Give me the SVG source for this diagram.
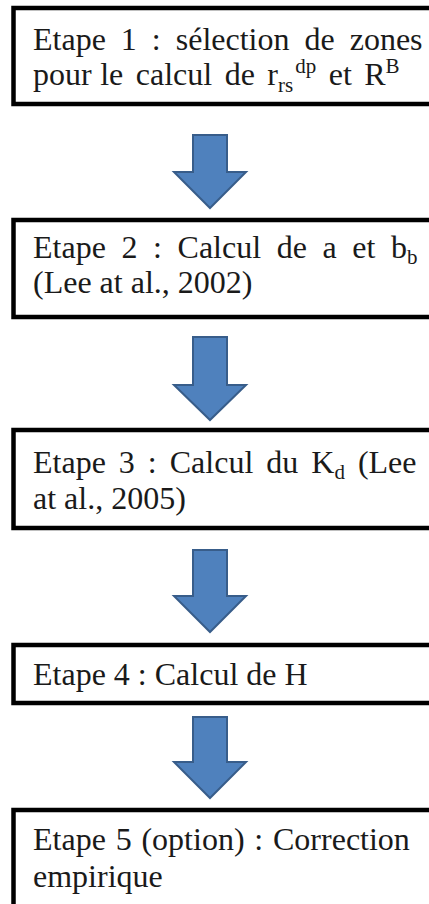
<svg xmlns="http://www.w3.org/2000/svg" width="429" height="904" viewBox="0 0 429 904">
<style>
.box{fill:#fff;stroke:#000;stroke-width:4.5}
.t{font-family:"Liberation Serif","Times New Roman",serif;font-size:32px;fill:#1a1a1a}
.s{font-size:21px}
.arrow{fill:#4F81BD;stroke:#385D8A;stroke-width:2;stroke-linejoin:miter}
</style>
<rect width="429" height="904" fill="#fff"/>
<g id="connectors">
<path class="arrow" d="M193,135 H227 V172 H246 L210,208 L174,172 H193 Z"/>
<path class="arrow" d="M193,337 H227 V385 H246 L210,420 L174,385 H193 Z"/>
<path class="arrow" d="M193,550 H227 V596 H246 L210,632 L174,596 H193 Z"/>
<path class="arrow" d="M193,717 H227 V762 H246 L210,798 L174,762 H193 Z"/>
</g>
<g id="step1">
<rect class="box" x="13.5" y="8" width="430" height="96"/>
<text class="t" x="33" y="50" word-spacing="7">Etape 1 : sélection de zones</text>
<text class="t" x="33" y="85" word-spacing="4.5">pour<tspan dx="-4"> le calcul de r</tspan><tspan class="s" dy="7">rs</tspan><tspan class="s" dx="2" dy="-19">dp</tspan><tspan dy="12"> et R</tspan><tspan class="s" dy="-12">B</tspan></text>
</g>
<g id="step2">
<rect class="box" x="13.5" y="220" width="430" height="97"/>
<text class="t" x="33" y="258" word-spacing="7.6">Etape 2 : Calcul de a et b<tspan class="s" dy="6">b</tspan></text>
<text class="t" x="33" y="293">(Lee at al., 2002)</text>
</g>
<g id="step3">
<rect class="box" x="13.5" y="430" width="430" height="98"/>
<text class="t" x="33" y="473" word-spacing="5">Etape 3 : Calcul du K<tspan class="s" dy="6">d</tspan><tspan dy="-6"> (Lee</tspan></text>
<text class="t" x="33" y="509">at al., 2005)</text>
</g>
<g id="step4">
<rect class="box" x="13.5" y="645" width="430" height="58"/>
<text class="t" x="33" y="685">Etape 4 : Calcul de H</text>
</g>
<g id="step5">
<rect class="box" x="13.5" y="810" width="430" height="110"/>
<text class="t" x="33" y="850" word-spacing="1.8">Etape 5 (option) : Correction</text>
<text class="t" x="33" y="887">empirique</text>
</g>
</svg>
